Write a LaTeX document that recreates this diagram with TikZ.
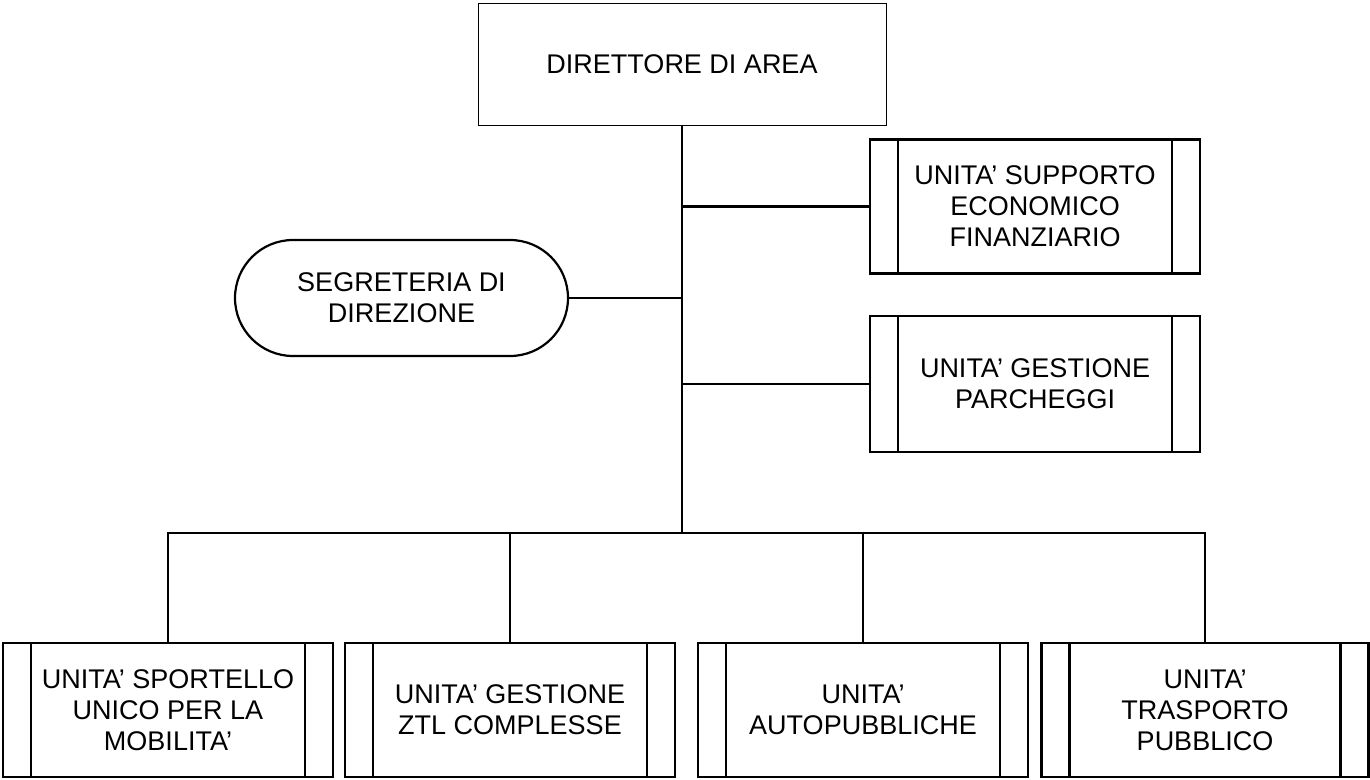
\documentclass[tikz,border=0pt]{standalone}
\usepackage{fontspec}
\setmainfont{Liberation Sans}
\begin{document}
\begin{tikzpicture}[x=1pt,y=-1pt,
  every node/.style={font=\fontsize{27}{31}\selectfont, align=center, inner sep=0pt},
  topbox/.style={draw, line width=1pt, minimum width=408pt, minimum height=122pt},
  unitbox/.style={draw, line width=2.2pt, minimum width=330pt, minimum height=134pt,
    path picture={
      \draw[line width=2.2pt] ([xshift=28pt]path picture bounding box.north west) -- ([xshift=28pt]path picture bounding box.south west);
      \draw[line width=2.2pt] ([xshift=-28pt]path picture bounding box.north east) -- ([xshift=-28pt]path picture bounding box.south east);
    }},
  segbox/.style={draw, line width=2.2pt, minimum width=333pt, minimum height=116pt, rounded corners=58pt},
  conn/.style={line width=2.2pt}
]
\useasboundingbox (0,0) rectangle (1370,779);
\node[topbox] (top) at (682,64) {DIRETTORE DI AREA};
\node[unitbox] (r1) at (1035,206.5) {UNITA’ SUPPORTO\\ECONOMICO\\FINANZIARIO};
\node[unitbox, minimum height=136pt] (r2) at (1035,384) {UNITA’ GESTIONE\\PARCHEGGI};
\node[segbox] (seg) at (401.5,298) {SEGRETERIA DI\\DIREZIONE};
\node[unitbox] (b1) at (168,710) {UNITA’ SPORTELLO\\UNICO PER LA\\MOBILITA’};
\node[unitbox] (b2) at (510,710) {UNITA’ GESTIONE\\ZTL COMPLESSE};
\node[unitbox] (b3) at (863,710) {UNITA’\\AUTOPUBBLICHE};
\node[unitbox, minimum width=327pt] (b4) at (1205,710) {UNITA’\\TRASPORTO\\PUBBLICO};
\coordinate (bus) at (682,533);
\draw[conn] (top.south) -- (bus);
\draw[conn] (top.south |- r1.west) -- (r1.west);
\draw[conn] (top.south |- r2.west) -- (r2.west);
\draw[conn] (seg.east) -- (seg.east -| top.south);
\draw[conn] (b1.north) -- (b1.north |- bus) -- (b4.north |- bus) -- (b4.north);
\draw[conn] (b2.north) -- (b2.north |- bus);
\draw[conn] (b3.north) -- (b3.north |- bus);
\end{tikzpicture}
\end{document}
